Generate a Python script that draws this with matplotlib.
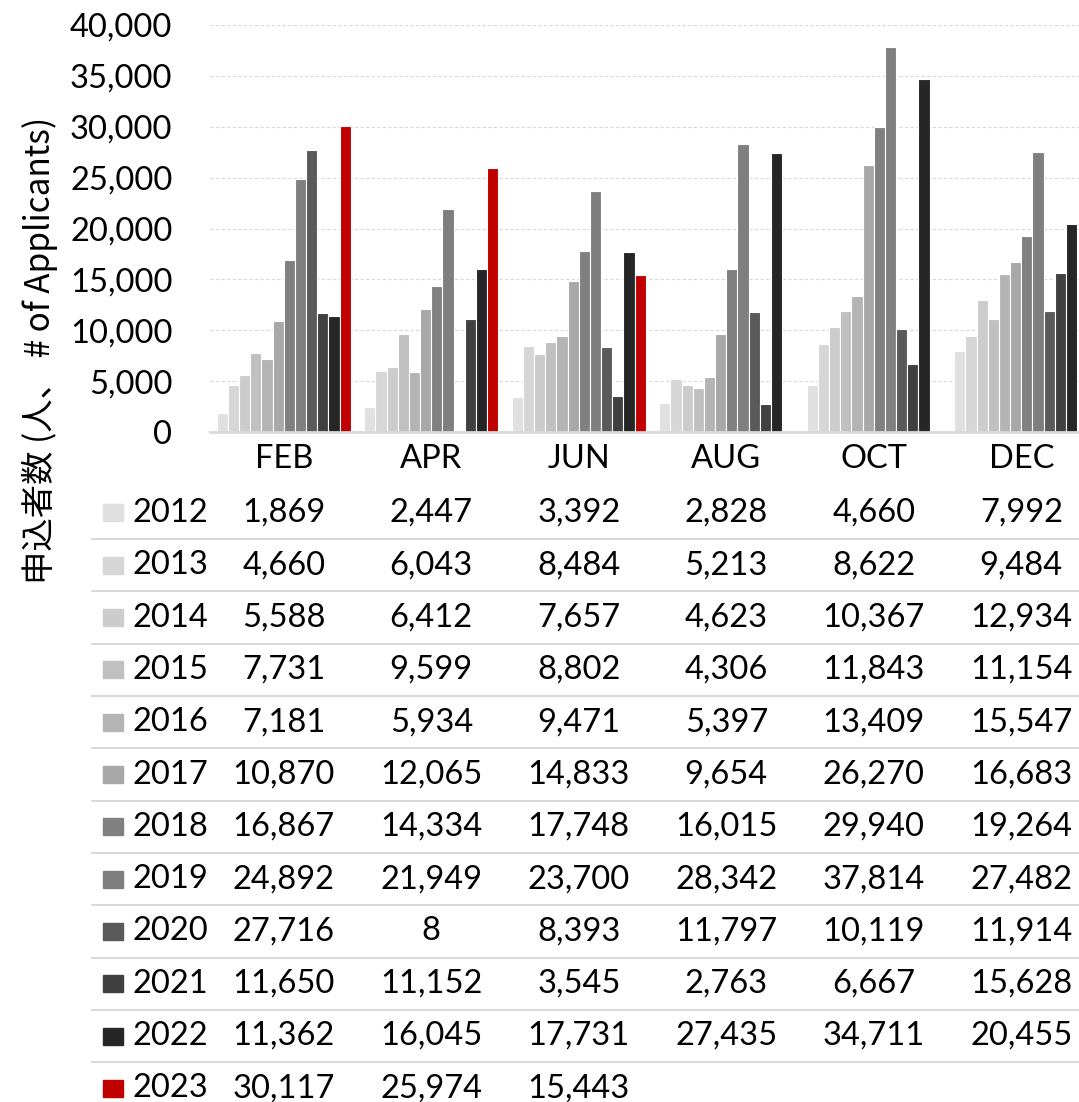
import numpy as np
import matplotlib
matplotlib.use("Agg")
import matplotlib.pyplot as plt
from matplotlib.transforms import blended_transform_factory

plt.rcParams['font.family'] = ['Lato', 'DejaVu Sans']

# data (applicants per month, by year)
months = ['FEB', 'APR', 'JUN', 'AUG', 'OCT', 'DEC']
years = ['2012', '2013', '2014', '2015', '2016', '2017',
         '2018', '2019', '2020', '2021', '2022', '2023']
v2012 = [1869, 2447, 3392, 2828, 4660, 7992]
v2013 = [4660, 6043, 8484, 5213, 8622, 9484]
v2014 = [5588, 6412, 7657, 4623, 10367, 12934]
v2015 = [7731, 9599, 8802, 4306, 11843, 11154]
v2016 = [7181, 5934, 9471, 5397, 13409, 15547]
v2017 = [10870, 12065, 14833, 9654, 26270, 16683]
v2018 = [16867, 14334, 17748, 16015, 29940, 19264]
v2019 = [24892, 21949, 23700, 28342, 37814, 27482]
v2020 = [27716, 8, 8393, 11797, 10119, 11914]
v2021 = [11650, 11152, 3545, 2763, 6667, 15628]
v2022 = [11362, 16045, 17731, 27435, 34711, 20455]
v2023 = [30117, 25974, 15443, None, None, None]
values = [v2012, v2013, v2014, v2015, v2016, v2017,
          v2018, v2019, v2020, v2021, v2022, v2023]
colors = ['#E0E0E0', '#D6D6D6', '#CCCCCC', '#C0C0C0', '#B4B4B4', '#A8A8A8',
          '#808080', '#7F7F7F', '#5A5A5A', '#404040', '#262626', '#C00000']

W, H = 1079, 1102
fig = plt.figure(figsize=(W / 100, H / 100), dpi=100)

# axes: left edge 210px, category width ~147.5px (right edge cut by figure)
left, base, top = 210, 432, 25
catw = 147.5
right = W
xmax = -0.5 + (right - left) / catw
ax = fig.add_axes([left / W, 1 - base / H, (right - left) / W, (base - top) / H])

n = len(years)
group = 0.91
bw = group / n
x = np.arange(len(months))
for i, (yr, vals) in enumerate(zip(years, values)):
    v = np.array([np.nan if a is None else a for a in vals], dtype=float)
    ax.bar(x - group / 2 + bw * (i + 0.5), v, width=bw, color=colors[i],
           edgecolor='white', linewidth=0.8, zorder=3)

ax.set_xlim(-0.5, xmax)
ax.set_ylim(0, 40000)
ax.set_yticks(np.arange(0, 40001, 5000))
ax.set_yticklabels([f'{t:,}' for t in range(0, 40001, 5000)])
ax.set_xticks(x)
ax.set_xticklabels(months)
ax.tick_params(axis='y', length=0, pad=27, labelsize=23.5)
ax.tick_params(axis='x', length=0, pad=9, labelsize=23.5)
ax.grid(axis='y', color='#D9D9D9', linestyle=(0, (3, 2)), linewidth=0.8, zorder=0)
for s in ['left', 'right', 'top']:
    ax.spines[s].set_visible(False)
ax.spines['bottom'].set_color('#D9D9D9')
ax.spines['bottom'].set_linewidth(2)
ax.spines['bottom'].set_zorder(4)

fig.text(40 / W, 1 - 350 / H, '申込者数 (人、 # of Applicants)', rotation=90,
         ha='center', va='center', fontsize=24,
         family=['Noto Sans CJK JP', 'DejaVu Sans'])

# data table under the chart
tr = blended_transform_factory(ax.transData, fig.transFigure)
row0, rowh = 513, 52.3
for i, (yr, vals) in enumerate(zip(years, values)):
    yc = 1 - (row0 + rowh * i) / H
    fig.patches.append(plt.Rectangle((103 / W, yc - 8.5 / H), 20 / W, 17 / H,
                                     color=colors[i], transform=fig.transFigure))
    fig.text(132 / W, yc, yr, ha='left', va='center', fontsize=23.5)
    for j, a in enumerate(vals):
        if a is not None:
            ax.text(j, yc, f'{a:,}', transform=tr, ha='center', va='center',
                    fontsize=23.5, clip_on=False)
    if i < n - 1:
        yl = 1 - (row0 + rowh * (i + 0.5)) / H
        fig.add_artist(plt.Line2D([92 / W, 1], [yl, yl], color='#D9D9D9',
                                  linewidth=1.5, transform=fig.transFigure))

fig.savefig('out.png', dpi=100)
